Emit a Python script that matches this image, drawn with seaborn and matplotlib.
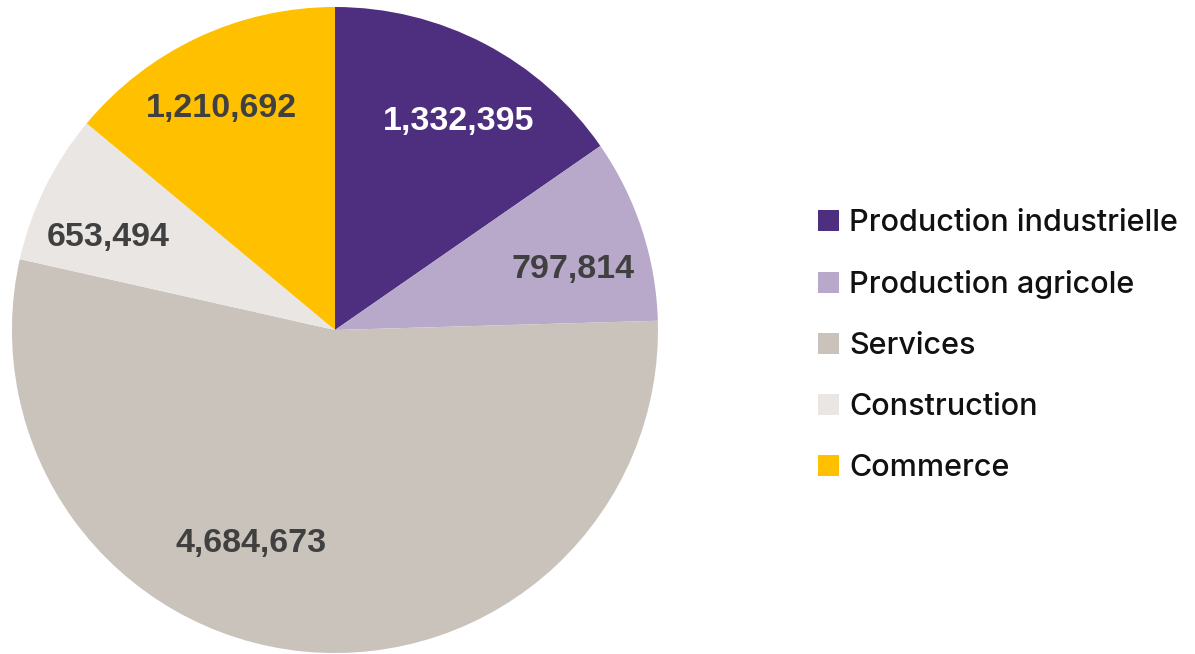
import numpy as np
import matplotlib
matplotlib.use("Agg")
import matplotlib.pyplot as plt
import seaborn as sns

sns.set_theme(style="white")
plt.rcParams["font.family"] = ["Inter", "DejaVu Sans"]

categories = ["Production industrielle", "Production agricole", "Services",
              "Construction", "Commerce"]
values = [1332395, 797814, 4684673, 653494, 1210692]
colors = ["#4E2F7F", "#B8A9CB", "#C9C3BC", "#EAE6E3", "#FFC000"]
label_colors = ["white", "#404040", "#404040", "#404040", "#404040"]
# small manual nudges of label angle (deg) and radius, to match the original layout
label_dangle = [-3, -4, -16, 4, 2]
label_rad = [0.75, 0.76, 0.71, 0.76, 0.77]

fig = plt.figure(figsize=(11.95, 6.54), dpi=100)
ax = fig.add_axes([0.01, 0.0015, 0.5406, 0.9878])
wedges, _ = ax.pie(values, colors=colors, startangle=90, counterclock=False,
                   radius=1.0, wedgeprops=dict(linewidth=0))
ax.set_xlim(-1, 1)
ax.set_ylim(-1, 1)
ax.set_aspect("equal")
ax.axis("off")

for w, v, c, da, r in zip(wedges, values, label_colors, label_dangle, label_rad):
    mid = np.deg2rad((w.theta1 + w.theta2) / 2 + da)
    ax.text(r * np.cos(mid), r * np.sin(mid), f"{v:,}", ha="center", va="center",
            color=c, fontsize=24.5, fontweight="bold", family="Liberation Sans")

leg = fig.legend(wedges, categories, loc="center left", bbox_to_anchor=(0.6845, 0.472),
                 frameon=False, prop=dict(family=["Inter", "DejaVu Sans"], size=22.0, weight="medium"),
                 handlelength=0.69, handleheight=0.69, handletextpad=0.34,
                 labelspacing=1.08, borderaxespad=0, borderpad=0)
for t in leg.get_texts():
    t.set_color("#111111")

fig.savefig("out.png", dpi=100)
